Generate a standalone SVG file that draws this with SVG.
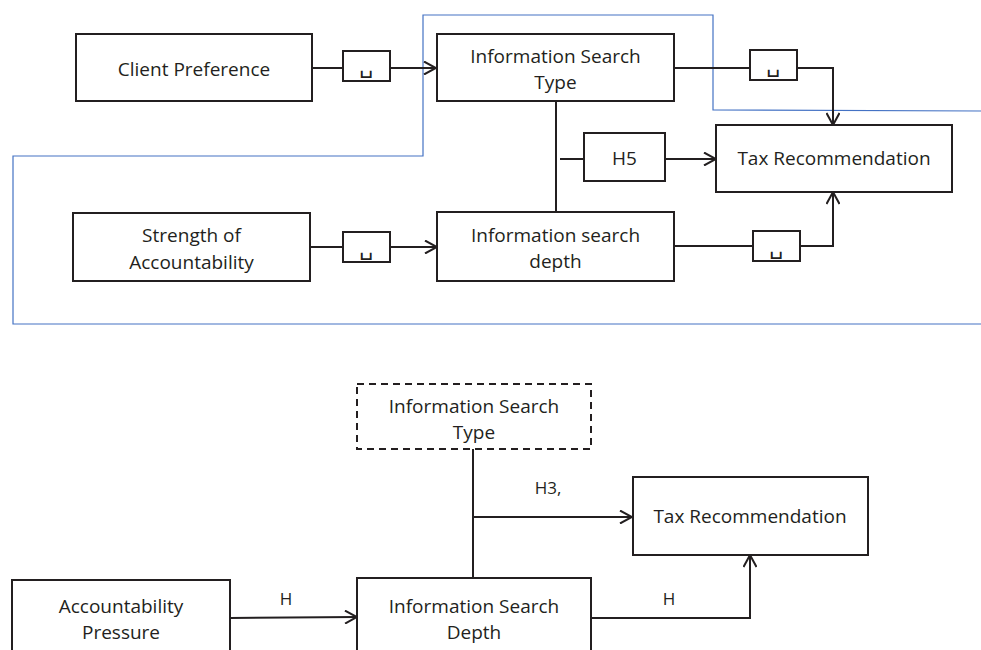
<svg xmlns="http://www.w3.org/2000/svg" width="981" height="650" viewBox="0 0 981 650">
<defs>
<style>
.box{fill:#fff;stroke:#231f20;stroke-width:2}
.dash{fill:#fff;stroke:#231f20;stroke-width:2;stroke-dasharray:7,5}
.sm{fill:#fff;stroke:#231f20;stroke-width:2}
.ln{fill:none;stroke:#231f20;stroke-width:2}
.blue{fill:none;stroke:#4472c4;stroke-width:1.2}
text{font-family:"Open Sans","Noto Sans","DejaVu Sans",sans-serif;font-size:19px;fill:#231f20;text-anchor:middle}
.lbl{font-size:17px}
.ob{font-family:"DejaVu Sans",sans-serif;font-size:22px}
</style>
<marker id="arr" viewBox="0 0 14 14" refX="13" refY="7" markerWidth="14" markerHeight="14" orient="auto" markerUnits="userSpaceOnUse">
<path d="M1,0.5 L13,7 L1,13.5" fill="none" stroke="#231f20" stroke-width="2"/>
</marker>
</defs>

<g id="blue-outline">
<polyline class="blue" points="981,324 13,324 13,156 423,156 423,15 713,15 713,110 981,111"/>
</g>

<g id="connectors">
<line class="ln" x1="312" y1="68" x2="343" y2="68"/>
<line class="ln" x1="390" y1="68" x2="436" y2="68" marker-end="url(#arr)"/>
<line class="ln" x1="674" y1="68" x2="750" y2="68"/>
<polyline class="ln" points="797,68 833,68 833,125" marker-end="url(#arr)"/>
<line class="ln" x1="556" y1="101" x2="556" y2="212"/>
<line class="ln" x1="560" y1="159" x2="584" y2="159"/>
<line class="ln" x1="665" y1="159" x2="716" y2="159" marker-end="url(#arr)"/>
<line class="ln" x1="310" y1="247" x2="343" y2="247"/>
<line class="ln" x1="390" y1="247" x2="437" y2="247" marker-end="url(#arr)"/>
<line class="ln" x1="674" y1="246" x2="753" y2="246"/>
<polyline class="ln" points="800,246 833,246 833,192" marker-end="url(#arr)"/>

<line class="ln" x1="473" y1="449" x2="473" y2="578"/>
<line class="ln" x1="473" y1="517" x2="632" y2="517" marker-end="url(#arr)"/>
<line class="ln" x1="230" y1="618" x2="357" y2="617" marker-end="url(#arr)"/>
<polyline class="ln" points="591,618 750,618 750,555" marker-end="url(#arr)"/>
</g>

<g id="edge-labels">
<g id="lbl1"><rect class="sm" x="343" y="51" width="47" height="30"/><text class="ob" x="366.5" y="73">␣</text></g>
<g id="lbl2"><rect class="sm" x="750" y="50" width="47" height="30"/><text class="ob" x="773.5" y="72">␣</text></g>
<g id="lbl3"><rect class="sm" x="343" y="232" width="47" height="30"/><text class="ob" x="366.5" y="255">␣</text></g>
<g id="lbl4"><rect class="sm" x="753" y="231" width="47" height="30"/><text class="ob" x="776.5" y="254">␣</text></g>
<g id="h5"><rect class="sm" x="584" y="133" width="81" height="48"/><text x="624.5" y="165">H5</text></g>
<text class="lbl" x="548" y="494">H3,</text>
<text class="lbl" x="286" y="605">H</text>
<text class="lbl" x="669" y="605">H</text>
</g>

<g id="client-preference"><rect class="box" x="76" y="34" width="236" height="67"/><text x="194" y="76">Client Preference</text></g>
<g id="info-search-type"><rect class="box" x="437" y="34" width="237" height="67"/><text x="555.5" y="63">Information Search</text><text x="555.5" y="89">Type</text></g>
<g id="tax-rec-1"><rect class="box" x="716" y="125" width="236" height="67"/><text x="834" y="165">Tax Recommendation</text></g>
<g id="strength"><rect class="box" x="73" y="213" width="237" height="68"/><text x="191.5" y="242">Strength of</text><text x="191.5" y="269">Accountability</text></g>
<g id="info-search-depth"><rect class="box" x="437" y="212" width="237" height="69"/><text x="555.5" y="242">Information search</text><text x="555.5" y="268">depth</text></g>

<g id="info-search-type-2"><rect class="dash" x="357" y="384" width="234" height="65"/><text x="474" y="413">Information Search</text><text x="474" y="439">Type</text></g>
<g id="tax-rec-2"><rect class="box" x="633" y="477" width="235" height="78"/><text x="750" y="523">Tax Recommendation</text></g>
<g id="accountability-pressure"><rect class="box" x="12" y="580" width="218" height="90"/><text x="121" y="613">Accountability</text><text x="121" y="639">Pressure</text></g>
<g id="info-search-depth-2"><rect class="box" x="357" y="578" width="234" height="90"/><text x="474" y="613">Information Search</text><text x="474" y="639">Depth</text></g>
</svg>
